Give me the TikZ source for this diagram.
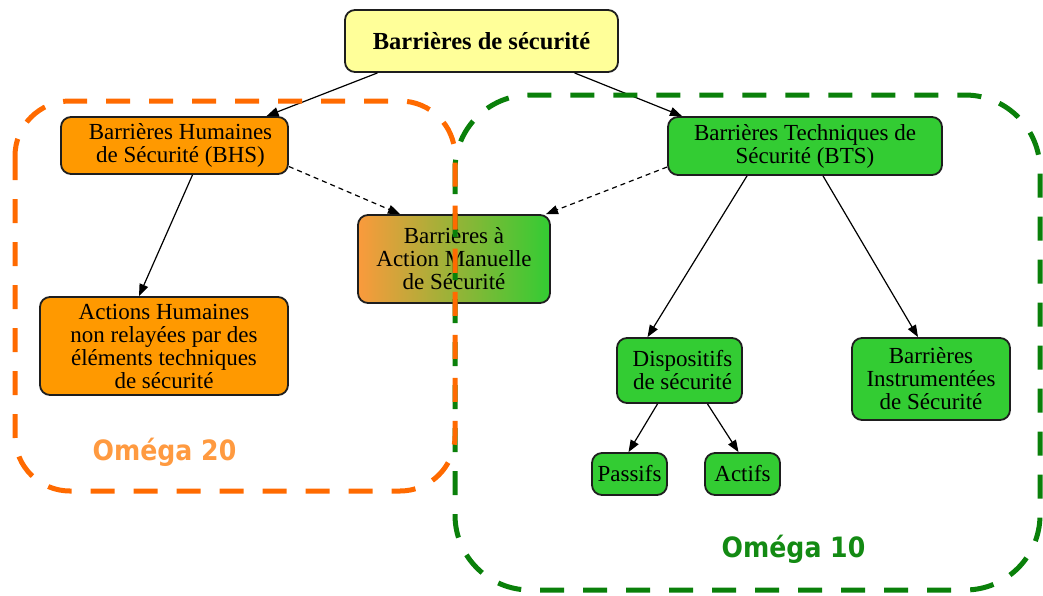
\documentclass[tikz,border=0pt]{standalone}
\usepackage{fontspec}
\setmainfont{Liberation Serif}
\newfontfamily\omegafont{DejaVu Sans Condensed}
\usetikzlibrary{arrows.meta,calc,shadings}

\definecolor{boxyellow}{HTML}{FFFF99}
\definecolor{boxorange}{HTML}{FF9900}
\definecolor{boxgreen}{HTML}{33CC33}
\definecolor{mixorange}{HTML}{FA9A3C}
\definecolor{edgegrey}{HTML}{1E1E1E}
\definecolor{frameorange}{HTML}{FF6A00}
\definecolor{labelorange}{HTML}{FF9A40}
\definecolor{framegreen}{HTML}{0A800A}
\definecolor{labelgreen}{HTML}{138A13}

\tikzset{
  box/.style={draw=edgegrey, line width=1.8pt, rounded corners=10pt,
    align=center, inner sep=0pt, font=\fontsize{23}{23}\selectfont},
  hbox/.style={box, fill=boxorange},
  tbox/.style={box, fill=boxgreen},
  link/.style={line width=1.2pt, -{Triangle[length=12pt,width=9pt]}},
  dlink/.style={link, dash pattern=on 5pt off 4pt},
  zone/.style={line width=5pt, rounded corners=#1, dash pattern=on 24pt off 19pt},
  zonelabel/.style={font=\omegafont\bfseries\fontsize{28}{30}\selectfont, anchor=base}
}

\begin{document}
\begin{tikzpicture}[x=1pt, y=-1pt]
\useasboundingbox (0,0) rectangle (1043,595);

% boxes
\node[box, fill=boxyellow, minimum width=273pt, minimum height=62pt,
      font=\bfseries\fontsize{24.5}{26}\selectfont]
  (top) at (481.5,41) {Barrières de sécurité};

\node[hbox, minimum width=227pt, minimum height=57pt]
  (bhs) at (174.5,145.5) {\hspace*{12pt}Barrières Humaines\\\hspace*{12pt}de Sécurité (BHS)};
\node[tbox, minimum width=274pt, minimum height=58pt]
  (bts) at (805,146) {Barrières Techniques de\\Sécurité (BTS)};
\node[box, left color=mixorange, right color=boxgreen, minimum width=192pt, minimum height=88pt]
  (bam) at (454,259) {Barrières à\\Action Manuelle\\de Sécurité};
\node[hbox, minimum width=248pt, minimum height=98pt]
  (ahn) at (164,346) {Actions Humaines\\non relayées par des\\éléments techniques\\de sécurité};
\node[tbox, minimum width=125pt, minimum height=65pt]
  (dis) at (679.5,370.5) {\hspace*{6pt}Dispositifs\\\hspace*{6pt}de sécurité};
\node[tbox, minimum width=158pt, minimum height=82pt]
  (bis) at (931,379) {Barrières\\Instrumentées\\de Sécurité};
\node[tbox, minimum width=75pt, minimum height=42pt]
  (pas) at (629.5,474) {Passifs};
\node[tbox, minimum width=75pt, minimum height=42pt]
  (act) at (742.5,474) {Actifs};

% connectors
\draw[link] ($(top.south)+(-104,0)$) -- ($(bhs.north)+(92,0)$);
\draw[link] ($(top.south)+(93,0)$) -- ($(bts.north)+(-123,0)$);
\draw[dlink] ($(bhs.east)+(0,21)$) -- ($(bam.north)+(-54,0)$);
\draw[dlink] ($(bts.west)+(0,21)$) -- ($(bam.north)+(92,0)$);
\draw[link] ($(bhs.south)+(18,0)$) -- ($(ahn.north)+(-25,0)$);
\draw[link] ($(bts.south)+(-58,0)$) -- ($(dis.north)+(-32,0)$);
\draw[link] ($(bts.south)+(18,0)$) -- ($(bis.north)+(-13,0)$);
\draw[link] ($(dis.south)+(-22,0)$) -- ($(pas.north)+(-1,0)$);
\draw[link] ($(dis.south)+(28,0)$) -- ($(act.north)+(-4,0)$);

% zones
\draw[zone=75pt, draw=framegreen] (455,95) rectangle (1040,590);
\draw[zone=55pt, draw=frameorange] (15,101) rectangle (455,491);

\node[zonelabel, text=labelorange] (o20) at (164.5,460) {Oméga 20};
\node[zonelabel, text=labelgreen] (o10) at (793.5,557) {Oméga 10};
\end{tikzpicture}
\end{document}
